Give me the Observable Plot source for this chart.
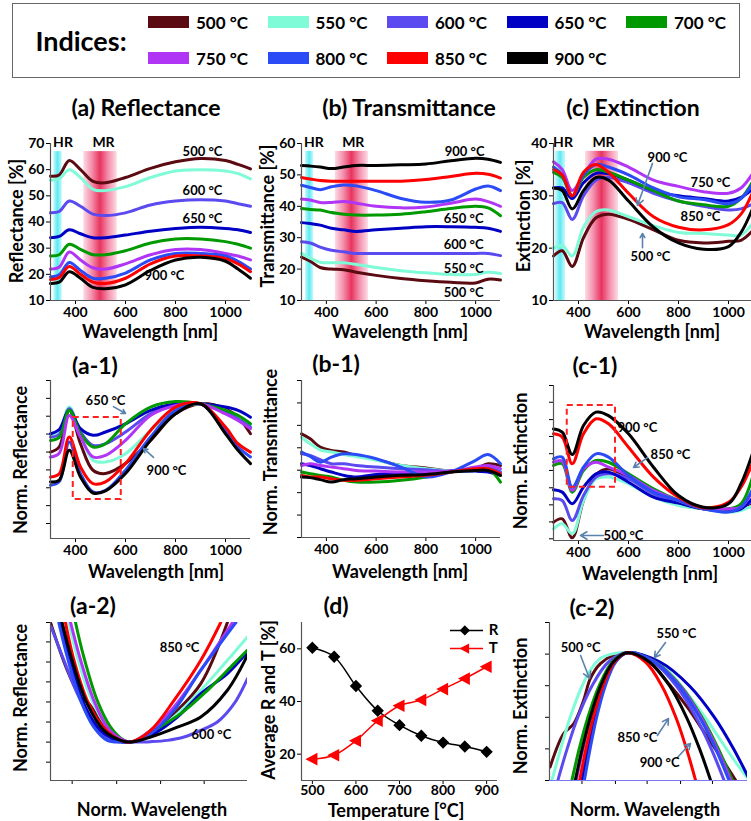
<!DOCTYPE html>
<html>
<head>
<meta charset="utf-8">
<script src="https://cdn.jsdelivr.net/npm/d3@7"></script>
<script src="https://cdn.jsdelivr.net/npm/@observablehq/plot@0.6"></script>
<style>
  html, body { margin: 0; padding: 0; background: #fff; }
  #fig { position: relative; width: 751px; height: 821px; overflow: hidden; font-family: Lato, "Open Sans", sans-serif; color: #000; background:#fff; }
  .t { position: absolute; font-weight: 700; white-space: nowrap; transform: translate(-50%, -50%); line-height: 1; }
  .title { font-size: 23px; }
  .axl { font-size: 18px; }
  .rot { transform: translate(-50%, -50%) rotate(-90deg); }
  .leg { font-size: 17px; transform: translate(0, -50%); }
  .sw { position: absolute; width: 41px; height: 12px; }
  #legend { position: absolute; left: 12px; top: 3px; width: 728px; height: 75px; border: 1.5px solid #666; box-sizing: border-box; }
</style>
</head>
<body>
<div id="fig"><div id="legend"></div></div>
<script>
// ---------------- data ----------------
const temps = ["500 °C","550 °C","600 °C","650 °C","700 °C","750 °C","800 °C","850 °C","900 °C"];
const colors = ["#5a0a10","#7ffbd8","#5a4af0","#0000c4","#009a00","#b035f5","#2a4bf5","#ff0000","#000000"];
const wavelength = [300, 335, 375, 420, 470, 520, 600, 700, 800, 900, 1000, 1050, 1100];

// (a) Reflectance [%]
const reflectance = [
  [57.5, 58, 63.5, 60, 55.5, 55, 57, 60.5, 63, 64.3, 63.5, 62, 60.3],
  [56, 56.5, 60, 57, 52.5, 52, 53.5, 57, 59.5, 60, 59.5, 58.5, 56.5],
  [43.5, 44, 48, 46, 43, 42.5, 43.5, 46.5, 48, 48.5, 48, 47, 46],
  [34, 34.5, 37, 35.5, 34, 34, 35, 36.5, 37.5, 38, 37.5, 37, 36],
  [27, 27.5, 31.5, 29.5, 27.5, 27.5, 29, 32, 33.5, 33.5, 32.5, 31.5, 30],
  [22, 22.8, 28.5, 25.5, 22.5, 22, 24, 27.5, 29.5, 29.5, 28, 27, 25.5],
  [19, 19.8, 24.5, 21.5, 18.5, 18.5, 20.5, 25.5, 28, 28, 27, 25, 22],
  [18, 18.8, 23, 20, 17, 16.5, 18.5, 24, 27, 27, 26, 24, 21],
  [16.5, 17, 21, 18.5, 15, 14.5, 16, 21.5, 25.5, 26.5, 25, 22, 18.5]
];
// (b) Transmittance [%]
const transmittance = [
  [23.8, 22.5, 20.5, 20, 19.8, 19, 18, 17, 16.3, 15.8, 15.6, 16.8, 16.5],
  [25, 23.5, 22.2, 22, 22, 21.5, 20.5, 19.5, 18.8, 18.3, 18.3, 19, 18.6],
  [28.7, 28.3, 27, 26, 25.5, 25, 25, 25, 25, 25, 25, 25, 24.3],
  [34.8, 34.5, 34, 33, 32.5, 32, 32.5, 33, 33.5, 33.5, 33.3, 33, 32],
  [39.3, 39, 38.8, 38, 37.5, 37.2, 37.2, 37.5, 38.3, 39.3, 40, 39.5, 37],
  [42.3, 42, 41.2, 41.2, 41.5, 41, 40, 39.5, 39.8, 41, 42.3, 41.5, 40],
  [46.7, 46, 45.3, 46.2, 46.8, 46.5, 45, 42.5, 41.3, 42, 45.5, 46.5, 45],
  [49.2, 48.7, 48.2, 48, 48, 48, 48, 48, 48.5, 49.5, 50.5, 50.2, 49],
  [53, 52.8, 52.5, 52, 52.5, 53, 53, 53.2, 53.5, 54.5, 55.3, 55, 54]
];
// (c) Extinction [%]
const extinction = [
  [18.5, 19.5, 16.5, 22, 25.8, 26.5, 25.5, 23.5, 21.5, 21, 21.3, 21.5, 23.5],
  [20, 20.5, 18.5, 24, 27, 27.3, 26, 24.3, 23, 22.8, 22.5, 22.5, 25],
  [28.5, 28.7, 25.5, 30, 33, 33.5, 32.5, 30.5, 29, 28, 27.3, 27.5, 28.5],
  [31.5, 31.5, 29.5, 32.5, 34.3, 34.2, 33, 31, 30, 29.5, 29, 29.7, 31.5],
  [34.5, 33.5, 30, 33.5, 35, 34.5, 33, 31, 29, 28.3, 28, 29.5, 33],
  [36.5, 35, 31, 34, 37, 37, 35.5, 33, 31.8, 30.8, 30.5, 31.5, 34.5],
  [35.5, 34, 30, 34, 36, 35.5, 34, 31.5, 29.8, 29.3, 28.5, 29.5, 32.5],
  [35, 34, 30, 34.5, 36, 34.5, 30.5, 26, 24, 23.5, 24.5, 26.5, 31],
  [31.5, 31, 27.5, 31, 33.5, 33, 29, 24, 21, 19.8, 20.3, 23, 28]
];
// (a-1) normalized reflectance (arbitrary units, 0-100 of axis)
const normReflectance = [
  [54.7, 58, 81.1, 60.0, 43.2, 41.1, 47.4, 62.1, 78.9, 85.3, 82.1, 76.8, 66.3],
  [65.3, 68, 83.2, 66.3, 49.5, 48.4, 53.7, 68.4, 81.1, 85.3, 81.1, 76.8, 71.6],
  [64.2, 66, 82.1, 67.4, 58.9, 60.0, 67.4, 78.9, 84.8, 85.3, 80.0, 75.8, 70.5],
  [66.3, 69, 81.1, 69.5, 65.3, 67.4, 72.6, 81.1, 85.3, 85.3, 83.2, 81.1, 76.8],
  [62.1, 64, 81.1, 66.3, 57.9, 60.0, 72.6, 83.2, 86.7, 85.3, 81.1, 77.9, 72.6],
  [51.6, 54, 77.9, 64.2, 51.6, 52.6, 62.1, 77.9, 84.2, 85.3, 78.9, 74.7, 69.5],
  [33.7, 36, 61.1, 41.1, 29.5, 30.5, 43.2, 64.2, 81.1, 85.3, 68.4, 57.9, 51.6],
  [38.9, 41, 64.2, 45.3, 34.7, 35.8, 47.4, 68.4, 83.2, 85.3, 70.5, 60.0, 54.7],
  [35.8, 37, 55.8, 38.9, 28.8, 30.1, 41.1, 62.1, 78.9, 85.3, 66.3, 55.8, 47.4]
];
// (b-1) normalized transmittance (arbitrary units, 0-7)
const normTransmittance = [
  [4.62, 4.40, 4.03, 3.88, 3.81, 3.66, 3.47, 3.21, 3.10, 2.96, 3.07, 3.29, 3.21],
  [4.47, 4.18, 3.91, 3.81, 3.70, 3.61, 3.44, 3.21, 3.07, 2.96, 2.99, 3.14, 2.99],
  [3.73, 3.66, 3.47, 3.29, 3.29, 3.21, 3.14, 3.07, 3.02, 2.96, 3.07, 3.14, 2.92],
  [3.29, 3.21, 3.07, 2.92, 2.77, 2.70, 2.81, 2.84, 2.87, 2.95, 2.96, 2.92, 2.77],
  [2.92, 2.84, 2.77, 2.70, 2.55, 2.47, 2.47, 2.55, 2.70, 2.92, 3.07, 3.07, 2.47],
  [3.21, 3.29, 3.21, 3.14, 3.07, 2.99, 2.96, 2.92, 2.92, 2.96, 3.14, 3.21, 3.07],
  [3.81, 3.61, 3.36, 3.58, 3.73, 3.70, 3.51, 3.14, 2.70, 2.92, 3.44, 3.70, 3.29],
  [2.77, 2.70, 2.70, 2.62, 2.55, 2.55, 2.62, 2.70, 2.77, 2.92, 3.07, 3.07, 2.84],
  [2.70, 2.67, 2.58, 2.47, 2.58, 2.62, 2.70, 2.77, 2.81, 2.92, 2.99, 2.99, 2.77]
];
// (c-1) normalized extinction (arbitrary units, 0-100 of axis)
const normExtinction = [
  [11.8, 14.0, 1.7, 25.8, 42.6, 46.2, 40.9, 31.2, 24.1, 20.4, 20.4, 21.5, 24.7],
  [7.5, 10.8, 4.3, 25.8, 39.8, 40.9, 36.6, 28.0, 22.6, 20.4, 18.3, 19.4, 22.6],
  [26.9, 25.8, 12.9, 29.0, 40.9, 43.0, 39.8, 30.1, 24.7, 20.4, 19.4, 21.5, 25.8],
  [32.7, 31.2, 23.7, 34.4, 43.0, 44.1, 37.6, 28.0, 24.1, 20.4, 18.9, 20.4, 28.0],
  [48.4, 49.5, 31.2, 45.2, 51.6, 50.5, 43.0, 33.3, 25.8, 20.4, 20.4, 23.7, 43.0],
  [50.5, 51.2, 32.3, 46.2, 50.5, 47.3, 41.9, 32.3, 25.8, 20.4, 20.4, 21.5, 33.3],
  [52.7, 53.8, 34.4, 47.3, 55.9, 53.8, 41.9, 31.2, 25.8, 20.4, 18.3, 21.5, 34.4],
  [68.8, 66.7, 49.5, 68.8, 78.5, 75.3, 60.2, 40.9, 28.0, 21.1, 24.7, 34.4, 51.6],
  [72.0, 69.9, 55.5, 74.2, 82.8, 80.6, 68.8, 47.3, 29.0, 21.5, 23.7, 36.6, 58.1]
];
// (a-2) reflectance minimum vs normalized wavelength: [normWavelength, normReflectance]
const reflMinimum = [
  [[0,100],[8.5,69.8],[15.3,52.9],[19.5,48.6],[25.4,38.1],[33.9,27.5],[40.7,24.3],[50.8,29.6],[62.7,42.3],[76.3,61.3],[89.8,100]],
  [[9.3,100],[13.6,78.2],[20.3,52.9],[28.8,33.8],[35.6,26.4],[40.7,24.3],[50.8,28.5],[62.7,40.2],[76.3,57.1],[89.8,76.1],[100,90.9]],
  [[0.3,97.3],[6.8,76.1],[13.6,55],[22,35.9],[28.8,26.4],[35.6,24.3],[40.7,24.3],[50.8,24.6],[59.3,25.4],[67.8,27.5],[76.3,31.7],[84.7,37],[93.2,48.6],[100,64.5]],
  [[5.1,100],[10.2,76.1],[16.9,48.6],[25.4,31.7],[33.9,25.4],[40.7,24.3],[50.8,28.5],[64.4,40.2],[76.3,55],[89.8,67.7],[100,81.4]],
  [[12.7,100],[16.9,78.2],[23.7,50.7],[30.5,33.8],[37.3,25.4],[40.7,24.3],[52.5,31.7],[66.1,42.3],[79.7,57.1],[93.2,74],[100,82.5]],
  [[10.2,100],[15.3,76.1],[22,50.7],[28.8,33.8],[35.6,26.4],[40.7,24.3],[50.8,31.7],[62.7,46.5],[76.3,69.8],[92.4,100]],
  [[4.2,100],[8.5,78.2],[15.3,50.7],[22,33.8],[28.8,25.4],[35.6,24.3],[40.7,24.3],[50.8,29.6],[62.7,44.4],[76.3,69.8],[94.1,100]],
  [[7.6,100],[11.9,76.1],[18.6,50.7],[25.4,35.9],[33.9,26.4],[40.7,24.3],[50.8,31.7],[62.7,50.7],[76.3,76.1],[86.4,100]],
  [[5.9,100],[11,76.1],[18.6,48.6],[27.1,31.7],[35.6,25.4],[40.7,24.3],[50.8,27.5],[64.4,33.8],[76.3,40.2],[89.8,57.1],[100,79.3]]
];
// (c-2) extinction maximum vs normalized wavelength: [normWavelength, normExtinction]
const extMaximum = [
  [[0.3,8.5],[7.1,29.6],[12.2,35.9],[17.2,50.7],[20.6,64.5],[25.7,74],[32.4,79.3],[39.2,80.8],[49.3,76.1],[59.5,62.4],[69.6,46.5],[79.7,27.5],[86.5,14.8],[94.1,0]],
  [[1.2,0],[5.4,19],[10.5,40.2],[15.5,57.1],[20.6,69.8],[25.7,77.2],[32.4,80.3],[39.2,80.8],[49.3,78.2],[59.5,69.8],[69.6,55],[79.7,38.1],[89.9,19],[98.3,4.2],[100,1.5]],
  [[4.2,0],[8.9,20],[14.3,40],[21.5,60],[29.8,75],[39.2,80.8],[52.3,75],[64.0,60],[74.0,40],[81.7,20],[88.2,0]],
  [[16.4,0],[19.4,20],[23.0,40],[27.6,60],[33.1,75],[39.2,80.8],[55.8,75],[70.6,60],[83.3,40],[93.0,20],[101.2,0]],
  [[11.3,0],[15.0,20],[19.4,40],[25.1,60],[31.7,75],[39.2,80.8],[53.5,75],[66.2,60],[77.0,40],[85.3,20],[92.4,0]],
  [[13.5,0],[16.9,20],[20.9,40],[26.2,60],[32.3,75],[39.2,80.8],[53.2,75],[65.8,60],[76.5,40],[84.6,20],[91.6,0]],
  [[17.6,0],[20.5,20],[23.8,40],[28.2,60],[33.4,75],[39.2,80.8],[53.0,75],[65.3,60],[75.8,40],[83.9,20],[90.7,0]],
  [[15.2,0],[18.4,20],[22.1,40],[27.0,60],[32.8,75],[39.2,80.8],[48.5,75],[56.7,60],[63.8,40],[69.2,20],[73.8,0]],
  [[13.0,0],[16.5,20],[20.6,40],[25.9,60],[32.2,75],[39.2,80.8],[50.5,75],[60.6,60],[69.2,40],[75.8,20],[81.4,0]]
];
// (d) averages
const temperature = [500, 550, 600, 650, 700, 750, 800, 850, 900];
const avgR = [60.4, 57, 45.9, 36.5, 31, 27, 24.4, 22.9, 20.9];
const avgT = [18.1, 19.6, 25.1, 32.7, 38.4, 40.6, 44.7, 48.7, 53.2];

// tick values
const wlTicks = [400, 600, 800, 1000];
const reflTicks = [10, 20, 30, 40, 50, 60, 70];
const transTicks = [10, 20, 30, 40, 50, 60];
const extTicks = [10, 20, 30, 40];
const tempTicks = [500, 600, 700, 800, 900];
const avgTicks = [20, 40, 60];

// bands & annotations (data coordinates)
const bandsA = [{name: "HR", lo: 313, hi: 347, at: 350}, {name: "MR", lo: 433, hi: 567, at: 512}];
const bandsB = [{name: "HR", lo: 316, hi: 349, at: 350}, {name: "MR", lo: 436, hi: 569, at: 508}];
const bandsC = [{name: "HR", lo: 308, hi: 348, at: 338}, {name: "MR", lo: 428, hi: 560, at: 500}];
const notesA = [{x: 908, y: 66.9, s: "500 °C"}, {x: 908, y: 52, s: "600 °C"}, {x: 908, y: 41.3, s: "650 °C"}, {x: 756, y: 19.6, s: "900 °C"}];
const notesB = [{x: 956, y: 57.5, s: "900 °C"}, {x: 952, y: 36.1, s: "650 °C"}, {x: 952, y: 27.8, s: "600 °C"}, {x: 952, y: 20.2, s: "550 °C"}, {x: 952, y: 12.5, s: "500 °C"}];
const notesC = [{x: 756, y: 37.3, s: "900 °C"}, {x: 928, y: 32.5, s: "750 °C"}, {x: 888, y: 25.9, s: "850 °C"}, {x: 688, y: 18.4, s: "500 °C"}];
const arrowsC = [{x1: 696, y1: 36.2, x2: 636, y2: 28.2}, {x1: 656, y1: 20.1, x2: 656, y2: 22.8}];
const notesA1 = [{x: 520, y: 87.3, s: "650 °C"}, {x: 764, y: 43, s: "900 °C"}];
const arrowsA1 = [{x1: 552, y1: 83.5, x2: 600, y2: 79.1}, {x1: 712, y1: 51.3, x2: 672, y2: 57}];
const boxA1 = [{x1: 391, x2: 583, y1: 24.7, y2: 76.6}];
const notesC1 = [{x: 556, y: 72.9, s: "900 °C"}, {x: 768, y: 55.5, s: "850 °C"}, {x: 580, y: 3.2, s: "500 °C"}];
const arrowsC1 = [{x1: 676, y1: 53.5, x2: 620, y2: 47.1}, {x1: 500, y1: 3.2, x2: 408, y2: 3.2}];
const boxC1 = [{x1: 355, x2: 548, y1: 34.4, y2: 87.1}];
const notesA2 = [{x: 65.5, y: 84.2, s: "850 °C"}, {x: 81.7, y: 29.1, s: "600 °C"}];
const notesC2 = [{x: 15.7, y: 84.2, s: "500 °C"}, {x: 64.1, y: 93, s: "550 °C"}, {x: 44.4, y: 27.2, s: "850 °C"}, {x: 55.6, y: 11.4, s: "900 °C"}];
const arrowsC2 = [{x1: 15.7, y1: 79.1, x2: 20.2, y2: 64.6}, {x1: 58.6, y1: 87.3, x2: 53, y2: 77.8}, {x1: 54.5, y1: 28.5, x2: 60.1, y2: 39.2}, {x1: 64.6, y1: 14.6, x2: 71.2, y2: 23.4}];
const legendD = [{name: "R", y: 67}, {name: "T", y: 60.1}];

// ---------------- helpers ----------------
const fig = document.getElementById("fig");
const FONT = "Lato, 'Open Sans', sans-serif";
const ARROW = "#5b82ad";

function txt(s, cls, x, y) {
  const d = document.createElement("div");
  d.className = "t " + cls; d.textContent = s;
  d.style.left = x + "px"; d.style.top = y + "px";
  fig.appendChild(d);
}
const series = (arrs) => arrs.flatMap((a, i) => a.map((v, j) => ({t: temps[i], x: wavelength[j], v})));
const pairs = (arrs) => arrs.flatMap((a, i) => a.map(([x, v]) => ({t: temps[i], x, v})));

// gradient defs
const defSvg = d3.select(fig).append("svg").attr("width", 0).attr("height", 0).style("position", "absolute");
const defs = defSvg.append("defs");
function grad(id, stops) {
  const lg = defs.append("linearGradient").attr("id", id).attr("x1", "0").attr("x2", "1").attr("y1", "0").attr("y2", "0");
  stops.forEach(([o, c]) => lg.append("stop").attr("offset", o).attr("stop-color", c));
}
grad("gHR", [["0%", "#c4fbfb"], ["50%", "#5fe8f2"], ["100%", "#c4fbfb"]]);
grad("gMR", [["0%", "#fcdce5"], ["25%", "#f490ad"], ["50%", "#e8345f"], ["75%", "#f490ad"], ["100%", "#fcdce5"]]);

function panel({col, area: [L, T, R, B], w = 250, x, y, marks}) {
  const mt = 16, mb = 30;
  const svg = Plot.plot({
    width: w, height: (B - T) + mt + mb,
    marginLeft: L - col, marginRight: col + w - R, marginTop: mt, marginBottom: mb,
    style: {background: "transparent", overflow: "visible", fontFamily: FONT, fontSize: "14px", fontWeight: "700", color: "#000", maxWidth: "none"},
    x: {label: null, tickSize: 4, tickPadding: 3, tickFormat: "d", ...x},
    y: {label: null, tickSize: 4, tickPadding: 2, tickFormat: "d", ...y},
    color: {domain: temps, range: colors},
    marks
  });
  svg.style.position = "absolute";
  svg.style.left = col + "px";
  svg.style.top = (T - mt) + "px";
  fig.appendChild(svg);
}
function bandMarks(bands, ymin, ytop) {
  return [
    Plot.rect(bands.filter(b => b.name === "HR"), {x1: "lo", x2: "hi", y1: ymin, y2: ytop, fill: "url(#gHR)"}),
    Plot.rect(bands.filter(b => b.name === "MR"), {x1: "lo", x2: "hi", y1: ymin, y2: ytop, fill: "url(#gMR)"})
  ];
}
const bandLabels = (bands, yv) => Plot.text(bands, {x: "at", y: yv, text: "name", fontSize: 14, fontWeight: "bold", fill: "#000", dy: -1});
const lines = (data, clip) => Plot.line(data, {x: "x", y: "v", z: "t", stroke: "t", strokeWidth: 3, curve: "catmull-rom", clip});
const notes = (data, anchor = "middle") => Plot.text(data, {x: "x", y: "y", text: "s", fontSize: 13, fontWeight: "bold", fill: "#000", textAnchor: anchor});
const arrows = (data) => Plot.arrow(data, {x1: "x1", y1: "y1", x2: "x2", y2: "y2", stroke: ARROW, strokeWidth: 1.6, headLength: 7});
const axes = (x0, y0, c = "#555") => [Plot.ruleX([x0], {stroke: "#555", strokeWidth: 1.2}), Plot.ruleY([y0], {stroke: c, strokeWidth: 1.2})];
const box = (data) => Plot.rect(data, {x1: "x1", x2: "x2", y1: "y1", y2: "y2", fill: "none", stroke: "#ff2020", strokeWidth: 2, strokeDasharray: "6,4"});
const blank = () => "";

// ---------------- legend ----------------
txt("Indices:", "", 81, 40); fig.lastChild.style.fontSize = "27px";
temps.forEach((t, i) => {
  const row = i < 5 ? 0 : 1, c = i < 5 ? i : i - 5;
  const x0 = 148 + c * 119.5, y0 = row ? 58 : 22;
  const sw = document.createElement("div");
  sw.className = "sw"; sw.style.left = x0 + "px"; sw.style.top = (y0 - 6) + "px"; sw.style.background = colors[i];
  fig.appendChild(sw);
  txt(t, "leg", x0 + 48, y0);
});

// ---------------- row 1 ----------------
panel({col: 0, area: [50, 143, 250, 300], x: {domain: [300, 1100], ticks: wlTicks}, y: {domain: [10, 70], ticks: reflTicks},
  marks: [...bandMarks(bandsA, 10, 66.9), lines(series(reflectance)), ...axes(300, 10), notes(notesA), bandLabels(bandsA, 70)]});
panel({col: 250, area: [301, 143, 500, 300], x: {domain: [300, 1100], ticks: wlTicks}, y: {domain: [10, 60], ticks: transTicks},
  marks: [...bandMarks(bandsB, 10, 57.5), lines(series(transmittance)), ...axes(300, 10), notes(notesB), bandLabels(bandsB, 60)]});
panel({col: 500, w: 256, area: [553, 143, 753, 300], x: {domain: [300, 1100], ticks: wlTicks}, y: {domain: [10, 40], ticks: extTicks},
  marks: [...bandMarks(bandsC, 10, 38.5), lines(series(extinction)), ...axes(300, 10), arrows(arrowsC), notes(notesC), bandLabels(bandsC, 40)]});

// ---------------- row 2 ----------------
panel({col: 0, area: [50, 380, 250, 538], x: {domain: [300, 1100], ticks: wlTicks},
  y: {domain: [0, 100], ticks: [9.5, 20.8, 32.1, 43.4, 54.7, 66.1, 77.4, 88.7, 100], tickFormat: blank},
  marks: [lines(series(normReflectance)), box(boxA1), ...axes(300, 0), arrows(arrowsA1), notes(notesA1)]});
panel({col: 250, area: [301, 380, 500, 537], x: {domain: [300, 1100], ticks: wlTicks},
  y: {domain: [0, 7], ticks: [0, 1, 2, 3, 4, 5, 6, 7], tickFormat: blank},
  marks: [lines(series(normTransmittance)), ...axes(300, 0)]});
panel({col: 500, w: 256, area: [553, 385, 753, 540], x: {domain: [300, 1100], ticks: wlTicks},
  y: {domain: [0, 100], ticks: [1.1, 12, 23, 34, 45.2, 56, 67.1, 78, 89.2, 100], tickFormat: blank},
  marks: [lines(series(normExtinction)), box(boxC1), ...axes(300, 0), arrows(arrowsC1), notes(notesC1.slice(0, 1), "start"), notes(notesC1.slice(1))]});

// ---------------- row 3 ----------------
panel({col: 0, area: [50, 622, 247, 780], x: {domain: [0, 100], ticks: [11, 33.6, 55.9, 78], tickFormat: blank},
  y: {domain: [0, 100], ticks: [11.6, 24.3, 37, 49.7, 62.4, 75, 87.7, 100], tickFormat: blank},
  marks: [lines(pairs(reflMinimum), true), ...axes(0, 0), notes(notesA2)]});

const dR = temperature.map((x, i) => ({x, v: avgR[i]}));
const dT = temperature.map((x, i) => ({x, v: avgT[i]}));
const triLeft = {draw(ctx, size) { const s = Math.sqrt(size) * 0.62; ctx.moveTo(-s * 1.05, 0); ctx.lineTo(s * 0.85, -s); ctx.lineTo(s * 0.85, s); ctx.closePath(); }};
panel({col: 250, area: [301, 622, 497, 780], x: {domain: [475, 925], ticks: tempTicks, tickPadding: 1}, y: {domain: [10, 70], ticks: avgTicks},
  marks: [
    ...axes(475, 10),
    Plot.line(dR, {x: "x", y: "v", stroke: "#000", strokeWidth: 1.5, curve: "catmull-rom"}),
    Plot.line(dT, {x: "x", y: "v", stroke: "#ff0000", strokeWidth: 1.5, curve: "catmull-rom"}),
    Plot.dot(dR, {x: "x", y: "v", symbol: "diamond2", r: 4.6, fill: "#000", stroke: "#000"}),
    Plot.dot(dT, {x: "x", y: "v", symbol: triLeft, r: 4.6, fill: "#ff0000", stroke: "#ff0000"}),
    Plot.ruleY(legendD, {y: "y", x1: 817, x2: 893, stroke: d => d.name === "R" ? "#000" : "#ff0000", strokeWidth: 1.5}),
    Plot.dot(legendD.filter(d => d.name === "R"), {x: 850, y: "y", symbol: "diamond2", r: 4.6, fill: "#000"}),
    Plot.dot(legendD.filter(d => d.name === "T"), {x: 850, y: "y", symbol: triLeft, r: 4.6, fill: "#ff0000"}),
    Plot.text(legendD, {x: 905, y: "y", text: "name", textAnchor: "start", fontSize: 15, fontWeight: "bold", fill: "#000"})
  ]});

panel({col: 500, area: [549, 622, 747, 780], x: {domain: [0, 100], ticks: [16.4, 33.3, 49.3, 66.2, 82.3], tickFormat: blank},
  y: {domain: [0, 100], ticks: [0, 20, 40, 60, 80, 100], tickFormat: blank},
  marks: [lines(pairs(extMaximum), true), ...axes(0, 0, "#7a78ee"), arrows(arrowsC2), notes(notesC2)]});

// ---------------- titles & axis labels ----------------
[["(a) Reflectance", 146, 107], ["(b) Transmittance", 409, 107], ["(c) Extinction", 633, 107],
 ["(a-1)", 95, 365], ["(b-1)", 336, 363], ["(c-1)", 595, 365],
 ["(a-2)", 93, 605], ["(d)", 336, 605], ["(c-2)", 592, 607]].forEach(([s, x, y]) => txt(s, "title", x, y));
[["Wavelength [nm]", 150, 331], ["Wavelength [nm]", 400, 331], ["Wavelength [nm]", 652, 331],
 ["Wavelength [nm]", 156, 571], ["Wavelength [nm]", 400, 571], ["Wavelength [nm]", 650, 573],
 ["Norm. Wavelength", 152, 809], ["Temperature [°C]", 396, 810], ["Norm. Wavelength", 645, 809]].forEach(([s, x, y]) => txt(s, "axl", x, y));
[["Reflectance [%]", 16, 221], ["Transmittance [%]", 267, 216], ["Extinction [%]", 523, 216],
 ["Norm. Reflectance", 20, 460], ["Norm. Transmittance", 270, 452], ["Norm. Extinction", 520, 461],
 ["Norm. Reflectance", 20, 698], ["Average R and T [%]", 268, 700], ["Norm. Extinction", 520, 706]].forEach(([s, x, y]) => txt(s, "axl rot", x, y));
</script>
</body>
</html>
